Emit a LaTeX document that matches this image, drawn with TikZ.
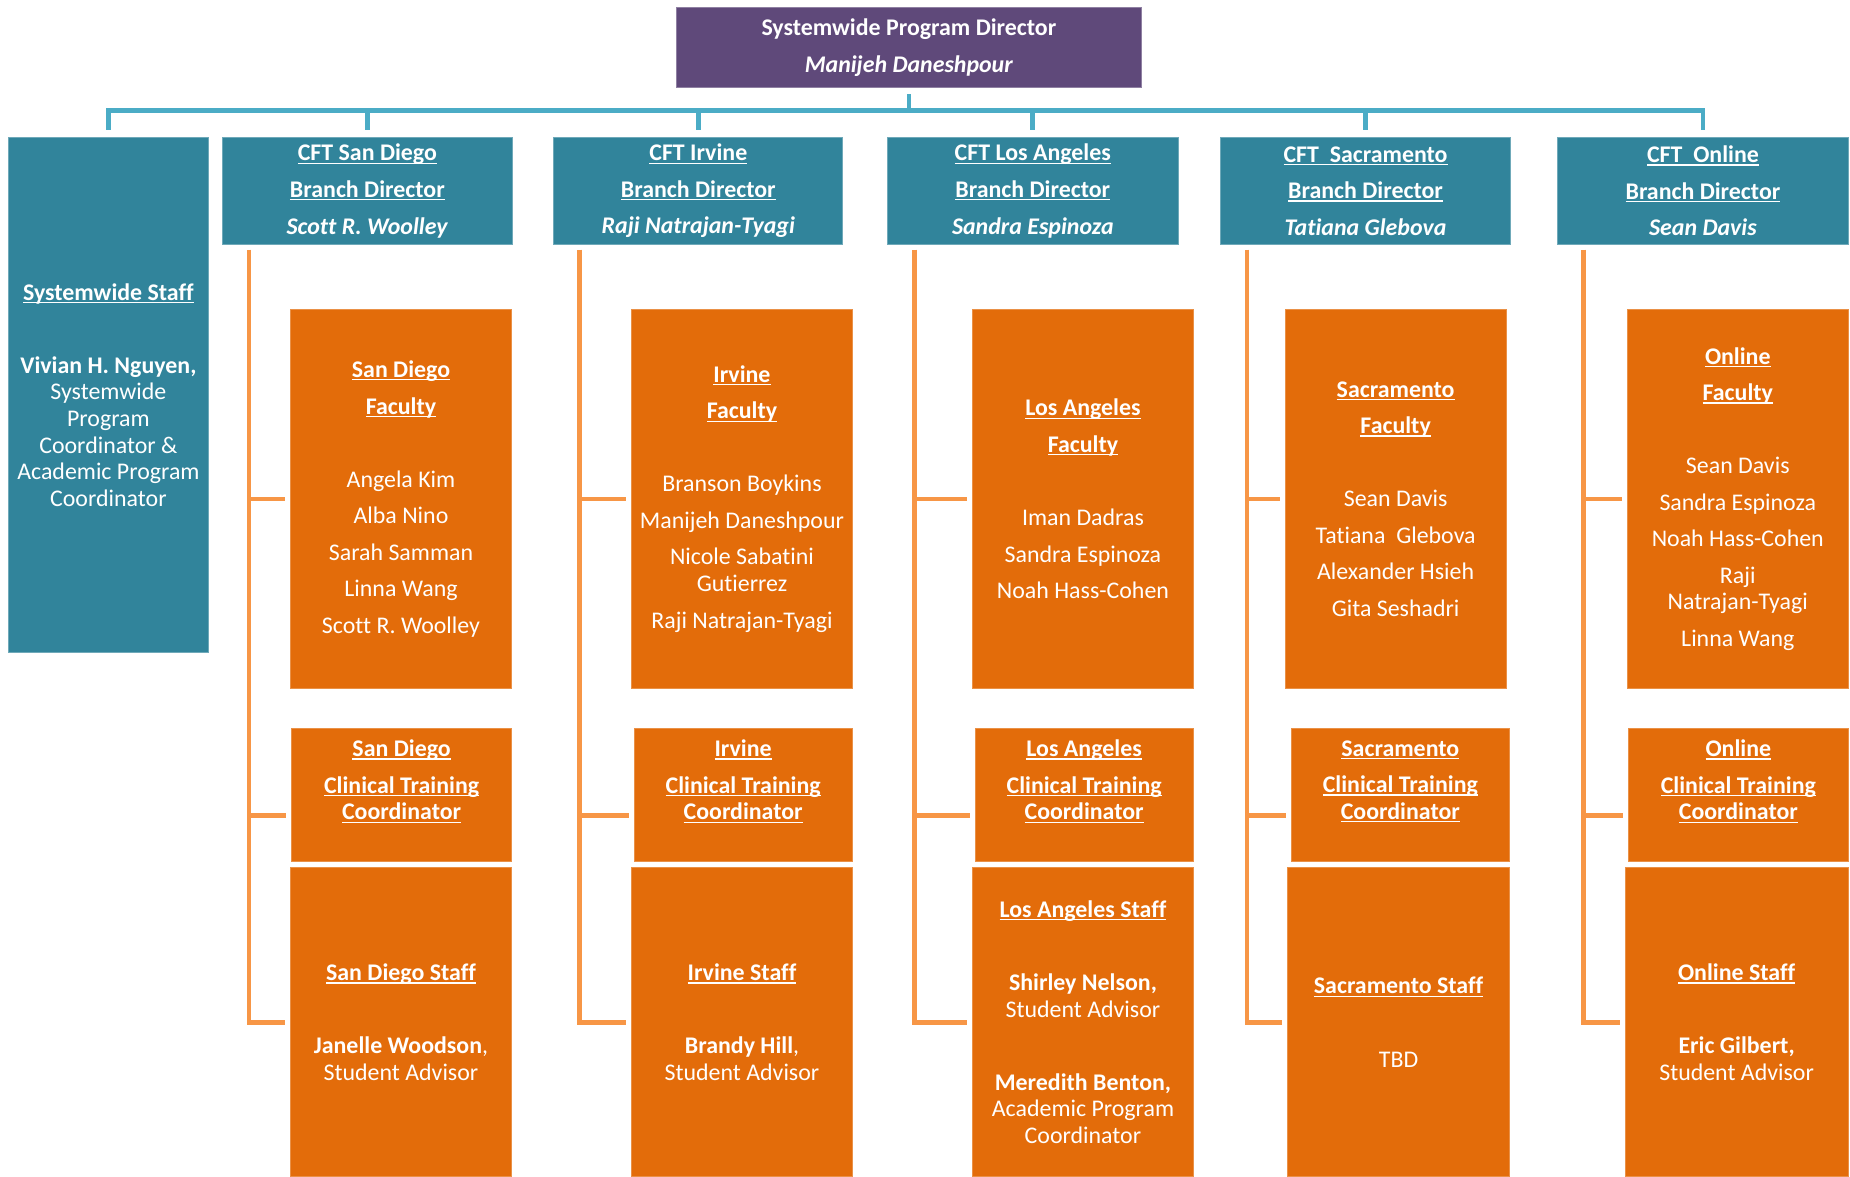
\documentclass[tikz,border=0pt]{standalone}
\usepackage{fontspec}
\setmainfont{Carlito}[Ligatures=NoCommon]
\usetikzlibrary{calc}

\definecolor{purp}{HTML}{5F497A}
\definecolor{tealbox}{HTML}{31849B}
\definecolor{bluelink}{HTML}{4BACC6}
\definecolor{orgbox}{HTML}{E36C0A}
\definecolor{orglink}{HTML}{F79646}

\newsavebox{\ulbox}
\newcommand{\undl}[1]{\sbox{\ulbox}{#1}\rlap{\rule[-1.7pt]{\wd\ulbox}{0.7pt}}\usebox{\ulbox}}
\newcommand{\psk}{\\[5.6pt]}
\newcommand{\bsk}{\\[26.4pt]}

\begin{document}
\begin{tikzpicture}[x=0.0236cm, y=-0.0236cm]
\tikzset{box/.style 2 args={minimum width=#1*0.0236cm, minimum height=#2*0.0236cm, inner sep=0pt, anchor=north west, align=center, text=white, font=\fontsize{13.6}{15.2}\selectfont},
  topbox/.style={fill=purp, draw=purp!70!white, line width=0.5pt},
  brbox/.style={fill=tealbox, draw=tealbox!70!white, line width=0.5pt},
  orbox/.style={fill=orgbox, draw=orgbox!75!white, line width=0.5pt},
  blink/.style={draw=bluelink, line width=2.7pt, shorten <=0.12cm, shorten >=0.14cm},
  olink/.style={draw=orglink, line width=2.7pt, shorten >=0.1cm}}
\useasboundingbox (0,0) rectangle (1568,997);
\node[box={394}{68}, topbox] (top) at (573,6) {\textbf{Systemwide Program Director}\psk\textbf{\textit{Manijeh Daneshpour}}};
\node[box={169}{437}, brbox] (sw) at (7,116) {\textbf{\undl{Systemwide Staff}}\bsk\textbf{Vivian H. Nguyen,}\\Systemwide\\Program\\Coordinator \&\\Academic Program\\Coordinator};
\node[box={246}{91}, brbox] (sd) at (188,116) {\textbf{\undl{CFT San Diego}}\psk\textbf{\undl{Branch Director}}\psk\textbf{\textit{Scott R. Woolley}}};
\node[box={245}{91}, brbox] (irv) at (469,116) {\textbf{\undl{CFT Irvine}}\psk\textbf{\undl{Branch Director}}\psk\textbf{\textit{Raji Natrajan-Tyagi}}};
\node[box={246}{91}, brbox] (la) at (752,116) {\textbf{\undl{CFT Los Angeles}}\psk\textbf{\undl{Branch Director}}\psk\textbf{\textit{Sandra Espinoza}}};
\node[box={246}{91}, brbox] (sac) at (1034,116) {\textbf{\undl{CFT\ \ Sacramento}}\psk\textbf{\undl{Branch Director}}\psk\textbf{\textit{Tatiana Glebova}}};
\node[box={246}{91}, brbox] (onl) at (1320,116) {\textbf{\undl{CFT\ \ Online}}\psk\textbf{\undl{Branch Director}}\psk\textbf{\textit{Sean Davis}}};
% faculty
\node[box={187}{321}, orbox] (sdf) at (246,262) {\textbf{\undl{San Diego}}\psk\textbf{\undl{Faculty}}\bsk Angela Kim\psk Alba Nino\psk Sarah Samman\psk Linna Wang\psk Scott R. Woolley};
\node[box={187}{321}, orbox] (irvf) at (535,262) {\textbf{\undl{Irvine}}\psk\textbf{\undl{Faculty}}\bsk Branson Boykins\psk Manijeh Daneshpour\psk Nicole Sabatini\\Gutierrez\psk Raji Natrajan-Tyagi};
\node[box={187}{321}, orbox] (laf) at (824,262) {\textbf{\undl{Los Angeles}}\psk\textbf{\undl{Faculty}}\bsk Iman Dadras\psk Sandra Espinoza\psk Noah Hass-Cohen};
\node[box={187}{321}, orbox] (sacf) at (1089,262) {\textbf{\undl{Sacramento}}\psk\textbf{\undl{Faculty}}\bsk Sean Davis\psk Tatiana\ \ Glebova\psk Alexander Hsieh\psk Gita Seshadri};
\node[box={187}{321}, orbox] (onlf) at (1379,262) {\textbf{\undl{Online}}\psk\textbf{\undl{Faculty}}\bsk Sean Davis\psk Sandra Espinoza\psk Noah Hass-Cohen\psk Raji\\Natrajan-Tyagi\psk Linna Wang};
% clinical training
\node[box={186}{113}, orbox] (sdc) at (247,617) {\textbf{\undl{San Diego}}\psk\textbf{\undl{Clinical Training}}\\ \textbf{\undl{Coordinator}}\\[2pt]\mbox{}};
\node[box={185}{113}, orbox] (irvc) at (537,617) {\textbf{\undl{Irvine}}\psk\textbf{\undl{Clinical Training}}\\ \textbf{\undl{Coordinator}}\\[2pt]\mbox{}};
\node[box={185}{113}, orbox] (lac) at (826,617) {\textbf{\undl{Los Angeles}}\psk\textbf{\undl{Clinical Training}}\\ \textbf{\undl{Coordinator}}\\[2pt]\mbox{}};
\node[box={185}{113}, orbox] (sacc) at (1094,617) {\textbf{\undl{Sacramento}}\psk\textbf{\undl{Clinical Training}}\\ \textbf{\undl{Coordinator}}\\[2pt]\mbox{}};
\node[box={186}{113}, orbox] (onlc) at (1380,617) {\textbf{\undl{Online}}\psk\textbf{\undl{Clinical Training}}\\ \textbf{\undl{Coordinator}}\\[2pt]\mbox{}};
% staff
\node[box={187}{262}, orbox] (sds) at (246,735) {\textbf{\undl{San Diego Staff}}\bsk\textbf{Janelle Woodson},\\Student Advisor};
\node[box={187}{262}, orbox] (irvs) at (535,735) {\textbf{\undl{Irvine Staff}}\bsk\textbf{Brandy Hill},\\Student Advisor};
\node[box={187}{262}, orbox] (las) at (824,735) {\textbf{\undl{Los Angeles Staff}}\bsk\textbf{Shirley Nelson,}\\Student Advisor\bsk\textbf{Meredith Benton,}\\Academic Program\\Coordinator};
\node[box={188}{262}, orbox] (sacs) at (1091,735) {\textbf{\undl{Sacramento Staff}}\bsk TBD};
\node[box={189}{262}, orbox] (onls) at (1377,735) {\textbf{\undl{Online Staff}}\bsk\textbf{Eric Gilbert,}\\Student Advisor};
% director to branches
\draw[blink] (top.south) -- ++(0,19) -| (sw.north);
\draw[blink] (top.south) -- ++(0,19) -| (sd.north);
\draw[blink] (top.south) -- ++(0,19) -| (irv.north);
\draw[blink] (top.south) -- ++(0,19) -| (la.north);
\draw[blink] (top.south) -- ++(0,19) -| (sac.north);
\draw[blink] (top.south) -- ++(0,19) -| (onl.north);
% branches to boxes
\draw[olink] ($(sd.south west)+(23,4)$) |- (sdf.west);
\draw[olink] ($(sd.south west)+(23,4)$) |- ($(sdc.west)+(0,17)$);
\draw[olink] ($(sd.south west)+(23,4)$) |- (sds.west);
\draw[olink] ($(irv.south west)+(22,4)$) |- (irvf.west);
\draw[olink] ($(irv.south west)+(22,4)$) |- ($(irvc.west)+(0,17)$);
\draw[olink] ($(irv.south west)+(22,4)$) |- (irvs.west);
\draw[olink] ($(la.south west)+(23,4)$) |- (laf.west);
\draw[olink] ($(la.south west)+(23,4)$) |- ($(lac.west)+(0,17)$);
\draw[olink] ($(la.south west)+(23,4)$) |- (las.west);
\draw[olink] ($(sac.south west)+(23,4)$) |- (sacf.west);
\draw[olink] ($(sac.south west)+(23,4)$) |- ($(sacc.west)+(0,17)$);
\draw[olink] ($(sac.south west)+(23,4)$) |- (sacs.west);
\draw[olink] ($(onl.south west)+(22,4)$) |- (onlf.west);
\draw[olink] ($(onl.south west)+(22,4)$) |- ($(onlc.west)+(0,17)$);
\draw[olink] ($(onl.south west)+(22,4)$) |- (onls.west);
\end{tikzpicture}
\end{document}
